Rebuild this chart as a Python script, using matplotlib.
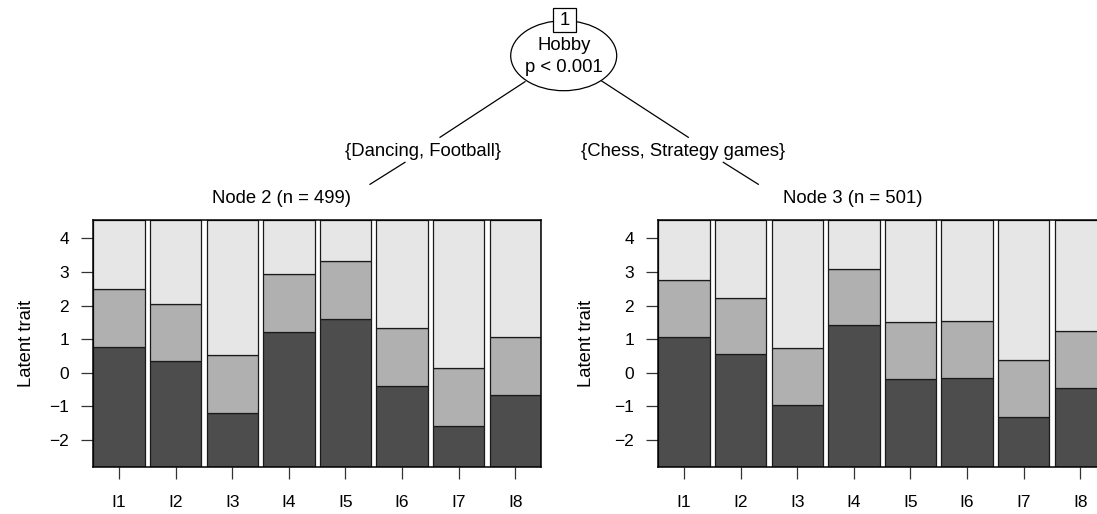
import matplotlib
matplotlib.use("Agg")
import matplotlib.pyplot as plt
from matplotlib.patches import Ellipse, Rectangle

plt.rcParams["font.family"] = ["Liberation Sans", "DejaVu Sans"]

# Item labels and category thresholds per terminal node
items = ["I1", "I2", "I3", "I4", "I5", "I6", "I7", "I8"]
node2_thr1 = [0.77, 0.34, -1.19, 1.20, 1.59, -0.40, -1.59, -0.65]
node2_thr2 = [2.49, 2.06, 0.52, 2.93, 3.32, 1.32, 0.14, 1.07]
node3_thr1 = [1.06, 0.56, -0.95, 1.41, -0.19, -0.15, -1.31, -0.46]
node3_thr2 = [2.75, 2.23, 0.74, 3.10, 1.50, 1.54, 0.38, 1.23]
y_ticks = [-2, -1, 0, 1, 2, 3, 4]
y_lo, y_hi = -2.8, 4.55

split_var = "Hobby"
split_p = "p < 0.001"
left_set = "{Dancing, Football}"
right_set = "{Chess, Strategy games}"
node2_label = "Node 2 (n = 499)"
node3_label = "Node 3 (n = 501)"

W, H = 1097, 514
fig = plt.figure(figsize=(W / 100, H / 100), dpi=100)

col_dark, col_mid, col_light = "#4D4D4D", "#B0B0B0", "#E6E6E6"
fs_tree = 13.3
fs_axis = 12.5


def region_panel(x0, thr1, thr2, label_x):
    ax = fig.add_axes([x0 / W, (H - 466.7) / H, 447.7 / W, 246.7 / H])
    step = 1.1
    xs = [i * step for i in range(len(items))]
    kw = dict(width=1.0, align="edge", edgecolor="#1a1a1a", linewidth=0.9)
    ax.bar(xs, [t - y_lo for t in thr1], bottom=y_lo, color=col_dark, **kw)
    ax.bar(xs, [b - a for a, b in zip(thr1, thr2)], bottom=thr1, color=col_mid, **kw)
    ax.bar(xs, [y_hi - b for b in thr2], bottom=thr2, color=col_light, **kw)
    ax.set_xlim(0, len(items) * step - 0.1)
    ax.set_ylim(y_lo, y_hi)
    ax.set_xticks([x + 0.5 for x in xs])
    ax.set_xticklabels(items)
    ax.set_yticks(y_ticks)
    ax.set_yticklabels([str(v).replace("-", "\u2212") for v in y_ticks])
    ax.tick_params(axis="both", length=8.5, width=0.9, color="#333333",
                   labelsize=fs_axis)
    ax.tick_params(axis="x", pad=12)
    ax.tick_params(axis="y", pad=9)
    for s in ax.spines.values():
        s.set_linewidth(1.1)
        s.set_color("black")
    ax.set_ylabel("Latent trait", fontsize=13.3)
    ax.yaxis.set_label_coords((label_x - x0) / 447.7, 0.5)
    return ax


region_panel(93.3, node2_thr1, node2_thr2, 35)
region_panel(658.3, node3_thr1, node3_thr2, 595)

# Tree layout drawn in pixel coordinates over the whole figure
tr = fig.add_axes([0, 0, 1, 1], zorder=5)
tr.set_xlim(0, W)
tr.set_ylim(H, 0)
tr.axis("off")
tr.patch.set_alpha(0)

lk = dict(color="black", linewidth=0.9)
tr.plot([525, 440], [81.7, 137.3], **lk)
tr.plot([405, 370], [162.3, 184.3], **lk)
tr.plot([601.7, 688.3], [81.0, 137.3], **lk)
tr.plot([723.3, 758.3], [162.3, 184.3], **lk)

tr.add_patch(Ellipse((563.7, 55.7), 106, 70, facecolor="white",
                     edgecolor="black", linewidth=0.9))
tr.add_patch(Rectangle((553, 8.3), 23, 23.4, facecolor="white",
                       edgecolor="black", linewidth=0.9))
tr.text(564.5, 20.5, "1", ha="center", va="center", fontsize=fs_tree)
tr.text(563.7, 45.5, split_var, ha="center", va="center", fontsize=fs_tree)
tr.text(563.7, 67.5, split_p, ha="center", va="center", fontsize=fs_tree)
tr.text(423, 151.5, left_set, ha="center", va="center", fontsize=fs_tree)
tr.text(683, 151.5, right_set, ha="center", va="center", fontsize=fs_tree)
tr.text(282, 198.5, node2_label, ha="center", va="center", fontsize=fs_tree)
tr.text(853, 198.5, node3_label, ha="center", va="center", fontsize=fs_tree)

fig.savefig("out.png", dpi=100)
